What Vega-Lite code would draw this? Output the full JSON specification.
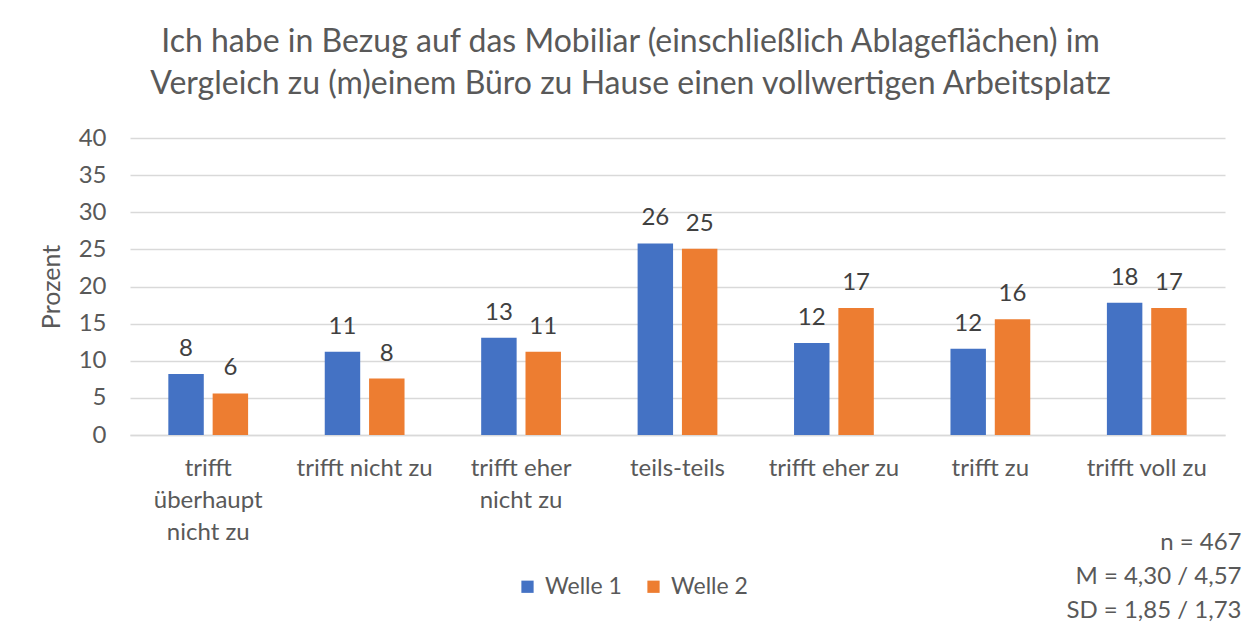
{
  "$schema": "https://vega.github.io/schema/vega-lite/v6.json",
  "width": 1095,
  "height": 297,
  "autosize": {"type": "none"},
  "padding": {"left": 130, "top": 138, "right": 24, "bottom": 191},
  "background": "white",
  "config": {
    "font": "Lato",
    "view": {"stroke": null}
  },
  "title": {
    "text": ["Ich habe in Bezug auf das Mobiliar (einschließlich Ablageflächen) im", "Vergleich zu (m)einem Büro zu Hause einen vollwertigen Arbeitsplatz"],
    "fontSize": 32,
    "fontWeight": "normal",
    "color": "#595959",
    "lineHeight": 42,
    "anchor": "middle",
    "dx": -47,
    "offset": 25
  },
  "data": {
    "values": [
      {"kat": "trifft überhaupt nicht zu", "welle": "Welle 1", "prozent": 8.2},
      {"kat": "trifft überhaupt nicht zu", "welle": "Welle 2", "prozent": 5.6},
      {"kat": "trifft nicht zu", "welle": "Welle 1", "prozent": 11.2},
      {"kat": "trifft nicht zu", "welle": "Welle 2", "prozent": 7.6},
      {"kat": "trifft eher nicht zu", "welle": "Welle 1", "prozent": 13.1},
      {"kat": "trifft eher nicht zu", "welle": "Welle 2", "prozent": 11.2},
      {"kat": "teils-teils", "welle": "Welle 1", "prozent": 25.8},
      {"kat": "teils-teils", "welle": "Welle 2", "prozent": 25.1},
      {"kat": "trifft eher zu", "welle": "Welle 1", "prozent": 12.4},
      {"kat": "trifft eher zu", "welle": "Welle 2", "prozent": 17.1},
      {"kat": "trifft zu", "welle": "Welle 1", "prozent": 11.6},
      {"kat": "trifft zu", "welle": "Welle 2", "prozent": 15.6},
      {"kat": "trifft voll zu", "welle": "Welle 1", "prozent": 17.8},
      {"kat": "trifft voll zu", "welle": "Welle 2", "prozent": 17.1}
    ]
  },
  "encoding": {
    "x": {
      "field": "kat",
      "type": "nominal",
      "sort": null,
      "scale": {"paddingInner": 0.49, "paddingOuter": 0.245},
      "axis": {
        "labelAngle": 0,
        "labelFontSize": 24,
        "labelColor": "#595959",
        "labelLineHeight": 32,
        "labelPadding": 21,
        "labelExpr": "datum.label == 'trifft überhaupt nicht zu' ? ['trifft', 'überhaupt', 'nicht zu'] : datum.label == 'trifft eher nicht zu' ? ['trifft eher', 'nicht zu'] : datum.label",
        "ticks": false,
        "domainColor": "#D9D9D9",
        "domainWidth": 1.5,
        "title": ["n = 467", "M = 4,30 / 4,57", "SD = 1,85 / 1,73"],
        "titleFontSize": 24,
        "titleFontWeight": "normal",
        "titleColor": "#595959",
        "titleLineHeight": 34,
        "titleAlign": "right",
        "titleBaseline": "top",
        "titleX": 1111,
        "titleY": 95
      }
    },
    "xOffset": {"field": "welle", "type": "nominal", "scale": {"paddingInner": 0.2}},
    "y": {
      "field": "prozent",
      "type": "quantitative",
      "scale": {"domain": [0, 40]},
      "axis": {
        "values": [0, 5, 10, 15, 20, 25, 30, 35, 40],
        "labelFontSize": 24,
        "labelColor": "#595959",
        "labelPadding": 24,
        "ticks": false,
        "domain": false,
        "gridColor": "#D9D9D9",
        "gridWidth": 1.5,
        "title": "Prozent",
        "titleFontSize": 25,
        "titleFontWeight": "normal",
        "titleColor": "#595959",
        "titlePadding": 14
      }
    }
  },
  "layer": [
    {
      "mark": {"type": "bar"},
      "encoding": {
        "color": {
          "field": "welle",
          "type": "nominal",
          "scale": {"domain": ["Welle 1", "Welle 2"], "range": ["#4472C4", "#ED7D31"]},
          "legend": {
            "title": null,
            "orient": "none",
            "direction": "horizontal",
            "legendX": 386,
            "legendY": 437,
            "labelFontSize": 23,
            "labelColor": "#595959",
            "symbolType": "square",
            "symbolSize": 150,
            "symbolStrokeWidth": 0,
            "columnPadding": 20,
            "labelOffset": 6
          }
        }
      }
    },
    {
      "mark": {"type": "text", "baseline": "alphabetic", "dy": -18, "fontSize": 24, "color": "#404040"},
      "encoding": {
        "text": {"field": "prozent", "type": "quantitative", "format": ".0f"}
      }
    }
  ]
}
